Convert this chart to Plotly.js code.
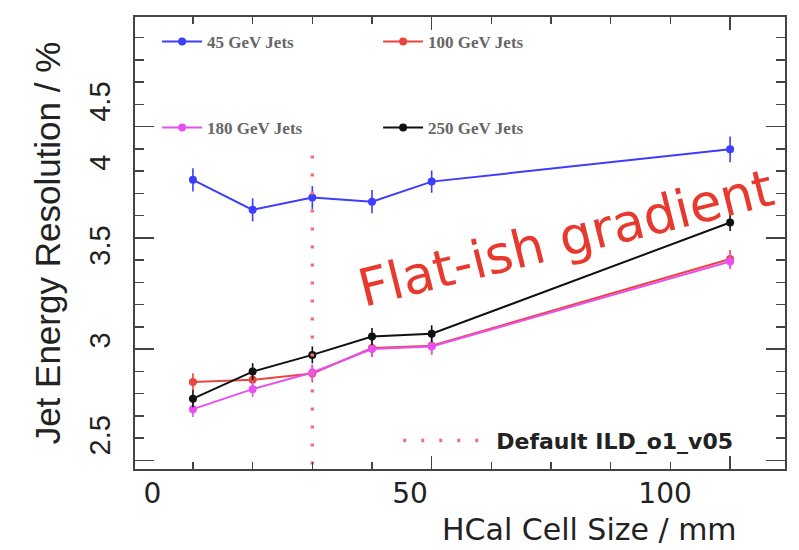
<!DOCTYPE html>
<html>
<head>
<meta charset="utf-8">
<script src="https://cdn.plot.ly/plotly-3.0.1.min.js"></script>
<style>html,body{margin:0;padding:0;background:#fff;}#chart{width:799px;height:550px;}</style>
</head>
<body>
<div id="chart"></div>
<script>
// ---- data ----
const cellSize = [10, 20, 30, 40, 50, 100];          // HCal cell size / mm
const res45  = [3.761, 3.626, 3.681, 3.663, 3.753, 3.898];
const err45  = [0.052, 0.052, 0.052, 0.052, 0.050, 0.058];
const res100 = [2.852, 2.862, 2.890, 3.005, 3.015, 3.405];
const err100 = [0.040, 0.040, 0.040, 0.040, 0.040, 0.040];
const res180 = [2.730, 2.820, 2.895, 3.000, 3.012, 3.394];
const err180 = [0.035, 0.035, 0.035, 0.035, 0.035, 0.035];
const res250 = [2.777, 2.899, 2.974, 3.057, 3.069, 3.569];
const err250 = [0.038, 0.038, 0.038, 0.038, 0.038, 0.038];
const seriesNames = ['45 GeV Jets', '100 GeV Jets', '180 GeV Jets', '250 GeV Jets'];
const defaultCell = [30, 30];
const defaultSpan = [2.40, 3.90];
const defaultName = 'Default ILD_o1_v05';
const xTickLabels = ['0', '50', '100'];
const yTickLabels = ['2.5', '3', '3.5', '4', '4.5'];
const xTitle = 'HCal Cell Size / mm';
const yTitle = 'Jet Energy Resolution / %';
const noteText = 'Flat-ish gradient';

// ---- styling / layout ----
const xRange = [0.29, 109.2];
const yRange = [2.461, 4.493];
const xLabelAt = [3.21, 46.37, 89.1];
const yLabelAt = [2.593, 3.019, 3.446, 3.819, 4.093];
const colors = ['#3d3dff', '#e8463c', '#e64ff0', '#111111'];
const resList = [res45, res100, res180, res250];
const errList = [err45, err100, err180, err250];
const legendOf = ['legend', 'legend', 'legend2', 'legend2'];

const traces = resList.map((r, i) => ({
  type: 'scatter', mode: 'lines+markers', name: seriesNames[i],
  x: cellSize, y: r, legend: legendOf[i],
  line: {color: colors[i], width: 2},
  marker: {color: colors[i], size: 8, symbol: 'circle'},
  error_y: {type: 'data', array: errList[i], visible: true, color: colors[i], thickness: 1.6, width: 0}
}));
traces.push({
  type: 'scatter', mode: 'lines', name: defaultName, legend: 'legend3',
  x: defaultCell, y: defaultSpan,
  line: {color: '#f07272', width: 3.5, dash: '3px,15px'}
});
traces.push({type: 'scatter', x: [], y: [], xaxis: 'x2', yaxis: 'y2', showlegend: false, hoverinfo: 'skip'});

const axisCommon = {showgrid: false, zeroline: false, showline: true, linecolor: '#444', linewidth: 1.6,
  mirror: 'ticks', ticks: 'inside', tickcolor: '#444', tickwidth: 1.6, showticklabels: false};

const legendFont = {family: 'Liberation Serif', size: 17, color: '#666', weight: 'bold'};
const layout = {
  width: 799, height: 550,
  margin: {l: 135, r: 14, t: 17, b: 81},
  paper_bgcolor: '#ffffff', plot_bgcolor: '#ffffff',
  showlegend: true,
  xaxis: Object.assign({}, axisCommon, {range: xRange, tick0: 0, dtick: 50, ticklen: 13,
    minor: {ticks: 'inside', dtick: 10, tick0: 0, ticklen: 7, tickcolor: '#444', tickwidth: 1.4}}),
  yaxis: Object.assign({}, axisCommon, {range: yRange, tick0: 0, dtick: 0.5, ticklen: 19,
    minor: {ticks: 'inside', dtick: 0.1, tick0: 0, ticklen: 9, tickcolor: '#444', tickwidth: 1.4}}),
  xaxis2: {overlaying: 'x', anchor: 'y2', side: 'bottom', range: xRange, showgrid: false, zeroline: false,
    showline: false, ticks: '', tickmode: 'array', tickvals: xLabelAt, ticktext: xTickLabels,
    ticklabelstandoff: 5, tickfont: {family: 'DejaVu Sans', size: 28, color: '#222'},
    automargin: false},
  yaxis2: {overlaying: 'y', anchor: 'x2', side: 'left', range: yRange, showgrid: false, zeroline: false,
    showline: false, ticks: '', tickmode: 'array', tickvals: yLabelAt, ticktext: yTickLabels, tickangle: -90,
    ticklabelstandoff: 18, tickfont: {family: 'Liberation Sans', size: 29, color: '#222'},
    title: {text: yTitle, standoff: 12, font: {family: 'Liberation Sans', size: 35, color: '#222'}},
    automargin: false},
  legend: {orientation: 'h', x: 0.034, xanchor: 'left', y: 0.945, yanchor: 'middle',
    entrywidth: 166, entrywidthmode: 'pixels', itemwidth: 40, bgcolor: 'rgba(0,0,0,0)', borderwidth: 0,
    font: legendFont},
  legend2: {orientation: 'h', x: 0.034, xanchor: 'left', y: 0.7546, yanchor: 'middle',
    entrywidth: 166, entrywidthmode: 'pixels', itemwidth: 40, bgcolor: 'rgba(0,0,0,0)', borderwidth: 0,
    font: legendFont},
  legend3: {orientation: 'h', x: 0.405, xanchor: 'left', y: 0.0626, yanchor: 'middle',
    itemwidth: 88, bgcolor: 'rgba(0,0,0,0)', borderwidth: 0,
    font: {family: 'DejaVu Sans', size: 22, color: '#222', weight: 'bold'}},
  annotations: [
    {text: noteText, xref: 'x', yref: 'y', x: 72.5, y: 3.50, showarrow: false, textangle: -14,
     font: {family: 'DejaVu Sans', size: 52, color: '#e8392e'}},
    {text: xTitle, xref: 'paper', yref: 'paper', x: 0.6985, y: -0.1762, xanchor: 'center', yanchor: 'bottom',
     showarrow: false, font: {family: 'DejaVu Sans', size: 30, color: '#222'}}
  ]
};

Plotly.newPlot('chart', traces, layout, {displayModeBar: false, staticPlot: true});
</script>
</body>
</html>
